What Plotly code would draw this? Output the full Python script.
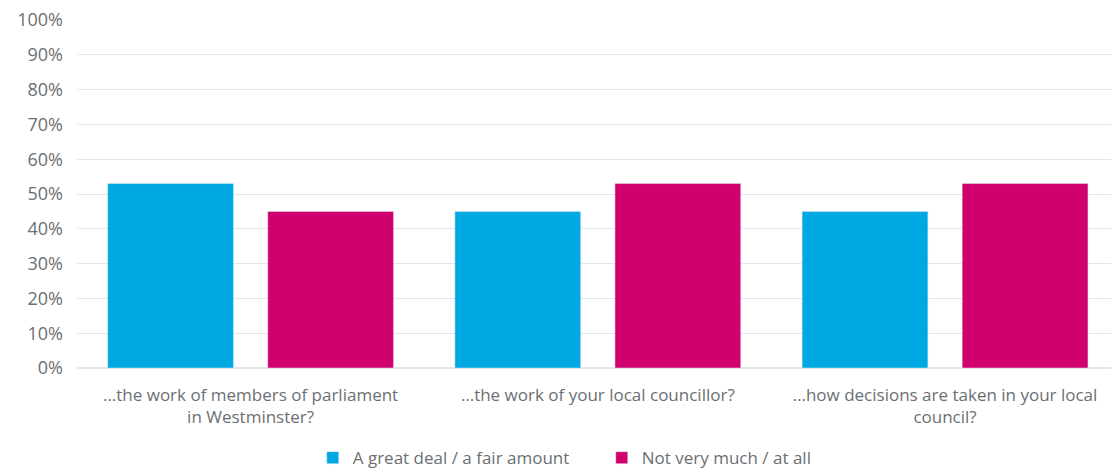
import plotly.graph_objects as go

categories = [
    "…the work of members of parliament<br>in Westminster?",
    "…the work of your local councillor?",
    "…how decisions are taken in your local<br>council?",
]
series_names = ["A great deal / a fair amount", "Not very much / at all"]
great_deal = [0.53, 0.45, 0.45]
not_much = [0.45, 0.53, 0.53]
tick_vals = [i / 10 for i in range(11)]
tick_text = [f"{i*10}%" for i in range(11)]

colors = ["#00A8E1", "#D1006F"]
font_family = "Open Sans, Lato, sans-serif"
text_color = "#6b6f73"

fig = go.Figure()
fig.add_trace(go.Bar(x=categories, y=great_deal, name=series_names[0], marker_color=colors[0]))
fig.add_trace(go.Bar(x=categories, y=not_much, name=series_names[1], marker_color=colors[1]))

fig.update_layout(
    width=1111, height=469,
    margin=dict(l=77, r=0, t=20, b=101, autoexpand=False),
    paper_bgcolor="white", plot_bgcolor="white",
    barmode="group", bargap=0.078, bargroupgap=0.214,
    font=dict(family=font_family, size=17, color=text_color),
    legend=dict(orientation="h", x=0.228, xanchor="left", y=-0.259, yanchor="middle",
                font=dict(size=17, color=text_color), itemwidth=30,
                entrywidth=244, entrywidthmode="pixels",
                traceorder="normal"),
    showlegend=True,
)
fig.update_yaxes(range=[0, 1], tickvals=tick_vals, ticktext=tick_text, automargin=False,
                 showgrid=True, gridcolor="#e3e6ea", gridwidth=1,
                 zeroline=True, zerolinecolor="#e3e6ea", zerolinewidth=2,
                 ticks="", ticklen=0, ticklabelstandoff=13, ticklabeloverflow="allow",
                 tickfont=dict(size=18, color=text_color))
fig.update_xaxes(showgrid=False, ticks="", automargin=False, ticklabelstandoff=15,
                 range=[-0.5, 2.478], ticklabeloverflow="allow",
                 tickfont=dict(size=17, color=text_color), tickangle=0)

fig.write_html("out.html", config={"displayModeBar": False},
               post_script="document.body.style.margin='0';")
